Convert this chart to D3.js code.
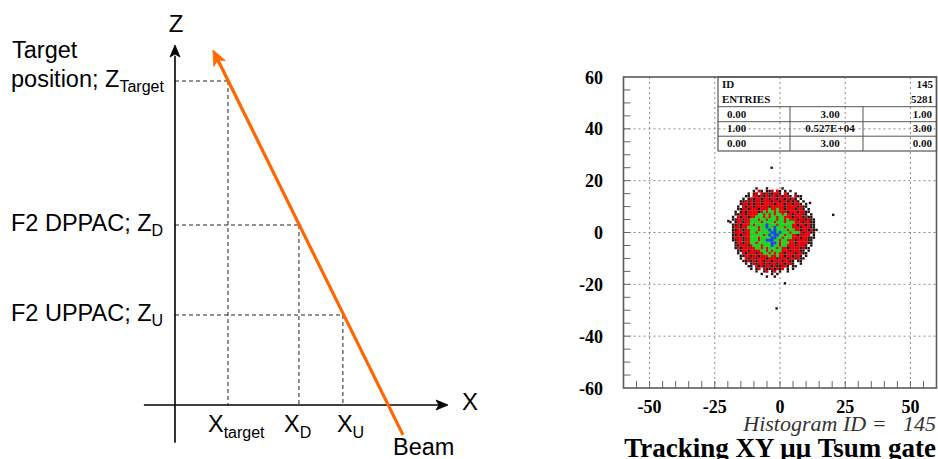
<!DOCTYPE html>
<html><head><meta charset="utf-8">
<script src="https://cdn.jsdelivr.net/npm/d3@7"></script>
<style>
html,body{margin:0;padding:0;background:#fff;}
svg{display:block;}
text{white-space:pre;}
</style></head>
<body>
<svg id="c" width="938" height="459"></svg>
<script>
// ---------------- Diagram data (abstract units) ----------------
const levelNames   = ["Target", "D", "U"];
const levelTitles  = ["position; Z", "F2 DPPAC; Z", "F2 UPPAC; Z"];
const levelZ       = [90, 50, 25];
const levelX       = [19.4, 45.4, 61.5];
const xLabelSubs   = ["target", "D", "U"];
const beamX        = [83.5, 13.9];
const beamZ        = [-8.3, 98.6];

// ---------------- Histogram data ----------------
const hxTicks = [-50, -25, 0, 25, 50];
const hyTicks = [60, 40, 20, 0, -20, -40, -60];
const gridX = [-50, -25, 0, 25, 50];
const gridY = [40, 20, 0, -20, -40];
const statTop = [["ID", "145"], ["ENTRIES", "5281"]];
const statRows = [["0.00", "3.00", "1.00"], ["1.00", "0.527E+04", "3.00"], ["0.00", "3.00", "0.00"]];
// density map: 1-unit bins, first row y=17, column 0 is x=-20
// k = sparse (dark), r = red, g = green, b = blue
const mapTopY = 17;
const mapX0 = -20;
const densityRows = [
"           k   k     k",
"          k rk kkr rk k k",
"        k kr rkrkkrrk rk  k",
"       kk rrkrkrkrrkrkrrk rkk",
"      k krkrrkrrkrrkrrkrkrk k",
"     kkrkrkrrkrrrkrrkrrkrkrk k",
"     krrkrkrrkrrrrkrrrkrrkrrk k",
"    k rkrrkrrrrrkrrrrrkrrrrkrkk",
"    kkrrkrrrkrrrgrrgrrkrrrkrrk k",
"   k krkrrrrkrgrggrgrrrkrrrkrrkk",
"   kkrrkrrrrggrgrgrggrgrrkrrrkk k",
"  k rkrrkrrgggrgrggrggrrrkrrrkrkk",
"  kkrrkrrgggrggrgggrggrgrrrkrrkrkk",
" k krrkrrggggrggggrgggrgggrrrkrrkk",
"  kkrkrrrgrggggbgggrgggggrrkrrkrkk",
"  krrkrrggggrggbggbgggrggrrrkrrrkk",
"  kkrrkrrgggrgggbgbggggrggrrkrrkrkk",
"  krrrkrrggrgggggbbgbgggrgggrkrrkk",
"  kkrkrrrgggggrgbgbbggrggrrkrrrr k",
"  krrrkrrgggrggggbbggrgggrrrkrrkkk",
"  kkrrkrrgggrggbbbggrggrrrkrrrrkk",
"   krrkrrggrgggggbbgrgggrrkrrrrkk",
"   kkrrrkrgggrgggbggrggrrrkrrrk k",
"   krkrrrrrggrgrgggrgrrkrrrrkrkk",
"    kkrrkrrrrggrgrgggrrrkrrrkk k",
"    k rkrrrkrrggrgrgrrkrrrkrrkk",
"     kkrrkrrkrrrgrrgrrkrrkrrk k",
"     k rkrrkrrrkrrrkrrrkrrkrkk",
"      kkrkrkrrkrrkrrrkrrkk kk",
"       k krkrrkrkrrkrrkrrk  k",
"        kk rkrkrrkrkkrrk kk",
"         k kr rkkrkrkr k k",
"           k  kr kr k  k",
"             k   k k",
"               k  k"
];
const outlierX = [-3.2, 20.4, -1.3, -19.8, 1.9, 11.5];
const outlierY = [25.0, 6.8, -29.3, 4.4, -19.6, 11.4];

const svg = d3.select("#c");
const SANS = "'Liberation Sans', Arial, sans-serif";
const SERIF = "'Liberation Serif', 'Times New Roman', serif";

// ================= LEFT DIAGRAM =================
const dx = d3.scaleLinear().domain([0, 100]).range([175, 448]);
const dz = d3.scaleLinear().domain([0, 100]).range([405, 45]);
const dg = svg.append("g");

function arrowHead(g, tipX, tipY, ux, uy, len, half, notch, color) {
  const px = -uy, py = ux;
  const bx = tipX - ux * len, by = tipY - uy * len;
  const nx = tipX - ux * (len - notch), ny = tipY - uy * (len - notch);
  g.append("path")
    .attr("d", `M${tipX},${tipY}L${bx + px * half},${by + py * half}L${nx},${ny}L${bx - px * half},${by - py * half}Z`)
    .attr("fill", color).attr("stroke", color).attr("stroke-width", 0.8).attr("stroke-linejoin", "miter");
}

// dashed guides
levelZ.forEach((z, i) => {
  dg.append("line").attr("x1", dx(0)).attr("x2", dx(levelX[i]))
    .attr("y1", dz(z)).attr("y2", dz(z))
    .attr("stroke", "#222").attr("stroke-width", 1).attr("stroke-dasharray", "4,3");
  dg.append("line").attr("x1", dx(levelX[i])).attr("x2", dx(levelX[i]))
    .attr("y1", dz(z)).attr("y2", dz(0))
    .attr("stroke", "#222").attr("stroke-width", 1).attr("stroke-dasharray", "4,3");
});

// axes
dg.append("line").attr("x1", dx(0)).attr("x2", dx(0)).attr("y1", dz(-10.5)).attr("y2", dz(97))
  .attr("stroke", "#000").attr("stroke-width", 1.6);
arrowHead(dg, dx(0), dz(100), 0, -1, 12, 5, 3, "#000");
dg.append("line").attr("x1", dx(-11.4)).attr("x2", dx(97)).attr("y1", dz(0)).attr("y2", dz(0))
  .attr("stroke", "#000").attr("stroke-width", 1.6);
arrowHead(dg, dx(100), dz(0), 1, 0, 12, 5, 3, "#000");

// beam
{
  const x1 = dx(beamX[0]), y1 = dz(beamZ[0]), x2 = dx(beamX[1]), y2 = dz(beamZ[1]);
  const L = Math.hypot(x2 - x1, y2 - y1), ux = (x2 - x1) / L, uy = (y2 - y1) / L;
  dg.append("line").attr("x1", x1).attr("y1", y1).attr("x2", x2 - ux * 8).attr("y2", y2 - uy * 8)
    .attr("stroke", "#ff6600").attr("stroke-width", 3.2);
  arrowHead(dg, x2, y2, ux, uy, 15, 6.5, 4, "#ff6600");
}

// axis titles
dg.append("text").attr("x", dx(0) + 1).attr("y", 32).attr("text-anchor", "middle")
  .attr("font-family", SANS).attr("font-size", 24).text("Z");
dg.append("text").attr("x", 470).attr("y", 410).attr("text-anchor", "middle")
  .attr("font-family", SANS).attr("font-size", 24).text("X");

// level labels
dg.append("text").attr("x", 12).attr("y", dz(levelZ[0]) - 23)
  .attr("font-family", SANS).attr("font-size", 23.5).text("Target");
levelZ.forEach((z, i) => {
  const t = dg.append("text").attr("x", 11).attr("y", dz(z) + (i === 0 ? 6 : 5.5))
    .attr("font-family", SANS).attr("font-size", 23.5);
  t.append("tspan").text(levelTitles[i]);
  t.append("tspan").attr("dy", 5).attr("font-size", 16).text(levelNames[i]);
});

// X labels
const xLabelStart = [-20, -15, -6];
levelX.forEach((xv, i) => {
  const t = dg.append("text").attr("x", dx(xv) + xLabelStart[i]).attr("y", dz(0) + 27)
    .attr("font-family", SANS).attr("font-size", 23.5);
  t.append("tspan").text("X");
  t.append("tspan").attr("dy", 6).attr("font-size", 16).text(xLabelSubs[i]);
});
dg.append("text").attr("x", 393).attr("y", 455).attr("font-family", SANS).attr("font-size", 23.5).text("Beam");

// ================= RIGHT HISTOGRAM =================
const hx = d3.scaleLinear().domain([-60, 60]).range([623.5, 936.5]);
const hy = d3.scaleLinear().domain([-60, 60]).range([388, 77]);
const hg = svg.append("g");

// grid
gridX.forEach(v => hg.append("line").attr("x1", hx(v)).attr("x2", hx(v)).attr("y1", hy(60)).attr("y2", hy(-60))
  .attr("stroke", "#8a8a8a").attr("stroke-width", 1).attr("stroke-dasharray", "2,3"));
gridY.forEach(v => hg.append("line").attr("x1", hx(-60)).attr("x2", hx(60)).attr("y1", hy(v)).attr("y2", hy(v))
  .attr("stroke", "#8a8a8a").attr("stroke-width", 1).attr("stroke-dasharray", "2,3"));

// minor ticks every 5 units
const minor = d3.range(-55, 60, 5);
minor.forEach(v => {
  hg.append("line").attr("x1", hx(-60)).attr("x2", hx(-60) + 7).attr("y1", hy(v)).attr("y2", hy(v))
    .attr("stroke", "#666").attr("stroke-width", 1);
  hg.append("line").attr("x1", hx(v)).attr("x2", hx(v)).attr("y1", hy(-60)).attr("y2", hy(-60) - 7)
    .attr("stroke", "#666").attr("stroke-width", 1);
});

// frame
hg.append("rect").attr("x", hx(-60)).attr("y", hy(60)).attr("width", hx(60) - hx(-60)).attr("height", hy(-60) - hy(60))
  .attr("fill", "none").attr("stroke", "#5a5a5a").attr("stroke-width", 1.6);

// tick labels
hyTicks.forEach(v => hg.append("text").attr("x", 603).attr("y", hy(v) + 6.5).attr("text-anchor", "end")
  .attr("font-family", SERIF).attr("font-weight", "bold").attr("font-size", 18).text(v));
hxTicks.forEach(v => hg.append("text").attr("x", hx(v)).attr("y", 413).attr("text-anchor", "middle")
  .attr("font-family", SERIF).attr("font-weight", "bold").attr("font-size", 18).text(v));

// density cells
const cw = hx(1) - hx(0), ch = hy(0) - hy(1);
const colors = { r: "#e6000a", g: "#22d022", b: "#1646e0" };
const cells = [];
densityRows.forEach((row, i) => {
  for (let j = 0; j < row.length; j++) {
    const c = row[j];
    if (c !== " ") cells.push({ x: mapX0 + j, y: mapTopY - i, c });
  }
});
const order = { r: 0, g: 1, b: 2, k: 3 };
cells.sort((a, b) => order[a.c] - order[b.c]);
hg.append("g").selectAll("rect").data(cells).join("rect")
  .attr("x", d => hx(d.x) - (d.c === "k" ? 1.2 : cw / 2 + 0.15))
  .attr("y", d => hy(d.y) - (d.c === "k" ? 1.2 : ch / 2 + 0.15))
  .attr("width", d => d.c === "k" ? 2.4 : cw + 0.3)
  .attr("height", d => d.c === "k" ? 2.4 : ch + 0.3)
  .attr("fill", d => d.c === "k" ? "#241010" : colors[d.c]);

hg.append("g").selectAll("rect").data(outlierX.map((x, i) => ({ x, y: outlierY[i] }))).join("rect")
  .attr("x", d => hx(d.x) - 1.2).attr("y", d => hy(d.y) - 1.2).attr("width", 2.4).attr("height", 2.4)
  .attr("fill", "#241010");

// stats box
const bx0 = 718, bx1 = hx(60), by0 = hy(60), by1 = 151;
const rowLines = [106.7, 121.7, 136.2];
const colLines = [790, 863];
hg.append("rect").attr("x", bx0).attr("y", by0).attr("width", bx1 - bx0).attr("height", by1 - by0)
  .attr("fill", "none").attr("stroke", "#555").attr("stroke-width", 1.2);
rowLines.forEach(y => hg.append("line").attr("x1", bx0).attr("x2", bx1).attr("y1", y).attr("y2", y)
  .attr("stroke", "#555").attr("stroke-width", 1));
colLines.forEach(x => hg.append("line").attr("x1", x).attr("x2", x).attr("y1", rowLines[0]).attr("y2", by1)
  .attr("stroke", "#555").attr("stroke-width", 1));
const sfont = (t) => t.attr("font-family", SERIF).attr("font-weight", "bold").attr("font-size", 11).attr("fill", "#111");
statTop.forEach((r, i) => {
  const y = 88 + i * 15;
  sfont(hg.append("text").attr("x", 722).attr("y", y).text(r[0]));
  sfont(hg.append("text").attr("x", 933).attr("y", y).attr("text-anchor", "end").text(r[1]));
});
statRows.forEach((r, i) => {
  const y = 117.5 + i * 14.6;
  sfont(hg.append("text").attr("x", 727).attr("y", y).text(r[0]));
  sfont(hg.append("text").attr("x", 830).attr("y", y).attr("text-anchor", "middle").text(r[1]));
  sfont(hg.append("text").attr("x", 932).attr("y", y).attr("text-anchor", "end").text(r[2]));
});

// captions
hg.append("text").attr("x", 936).attr("y", 431).attr("text-anchor", "end")
  .attr("font-family", SERIF).attr("font-style", "italic").attr("font-size", 22).attr("fill", "#333")
  .text("Histogram ID =   145");
hg.append("text").attr("x", 936).attr("y", 457).attr("text-anchor", "end")
  .attr("font-family", SERIF).attr("font-weight", "bold").attr("font-size", 27).attr("fill", "#000")
  .text("Tracking XY \u03bc\u03bc Tsum gate");
</script>
</body></html>
